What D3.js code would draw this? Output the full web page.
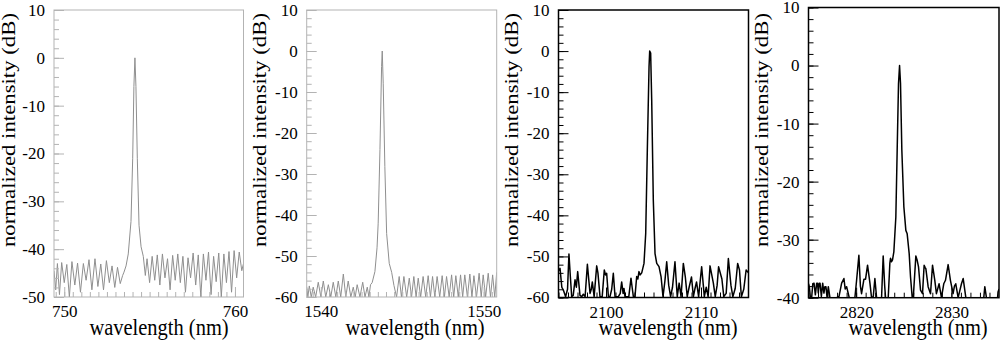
<!DOCTYPE html>
<html lang="en">
<head>
<meta charset="utf-8" />
<title>Single-frequency laser spectra</title>
<script src="https://cdn.jsdelivr.net/npm/d3@7"></script>
<style>
  body { margin: 0; background: #fff; }
  svg { display: block; background: #fff; }
  text { font-family: "Liberation Serif", "Times New Roman", serif; fill: #000; }
</style>
</head>
<body>
<svg id="chart" width="1000" height="343"></svg>
<script>
// spectra: [wavelength (nm), normalized intensity (dB)]
const spec750 = [
  [749.40,-44.5],[749.50,-48.5],[749.60,-43.0],[749.72,-49.5],[749.85,-42.8],[750.00,-47.0],
  [750.15,-43.2],[750.30,-50.0],[750.45,-42.6],[750.62,-47.5],[750.78,-42.9],[750.95,-49.0],
  [751.12,-43.0],[751.28,-46.5],[751.45,-42.2],[751.62,-48.5],[751.80,-42.0],[751.97,-47.8],
  [752.14,-43.1],[752.30,-48.5],[752.47,-42.4],[752.64,-47.0],[752.80,-43.5],[752.96,-48.0],
  [753.12,-43.8],[753.28,-47.2],[753.42,-45.5],[753.50,-44.8],[753.62,-43.5],[753.75,-41.0],
  [753.91,-34.2],[754.01,-21.0],[754.08,-6.0],[754.14,0],[754.20,-6.0],[754.28,-21.0],
  [754.38,-35.0],[754.50,-39.5],[754.63,-41.5],[754.75,-45.5],[754.85,-42.0],[755.00,-47.0],
  [755.15,-41.5],[755.30,-46.5],[755.45,-41.2],[755.60,-47.5],[755.75,-41.0],[755.90,-46.0],
  [756.05,-42.0],[756.20,-48.5],[756.35,-41.3],[756.50,-46.5],[756.65,-41.0],[756.80,-47.0],
  [756.95,-41.5],[757.10,-49.0],[757.25,-41.8],[757.40,-46.0],[757.55,-40.8],[757.70,-47.5],
  [757.85,-41.2],[758.00,-50.0],[758.15,-41.0],[758.30,-46.5],[758.45,-40.6],[758.60,-49.5],
  [758.75,-41.5],[758.90,-46.8],[759.05,-40.8],[759.20,-50.0],[759.35,-41.0],[759.50,-47.0],
  [759.65,-40.5],[759.80,-49.0],[759.95,-40.3],[760.10,-46.0],[760.25,-40.6],[760.40,-44.5],
  [760.50,-43.0]
];

const spec1540 = [
  [1539.13,-57.5],[1539.20,-60],[1539.29,-57.3],[1539.41,-60],[1539.53,-57.6],[1539.68,-60],
  [1539.84,-56.4],[1540.00,-60],[1540.15,-56.1],[1540.30,-60],[1540.46,-57.0],[1540.61,-60],
  [1540.76,-56.4],[1540.92,-60],[1541.07,-56.1],[1541.22,-60],[1541.38,-54.4],[1541.53,-60],
  [1541.68,-56.1],[1541.84,-60],[1541.99,-57.6],[1542.11,-60],[1542.23,-57.0],[1542.40,-60],
  [1542.57,-56.4],[1542.71,-60],[1542.85,-57.6],[1542.95,-60],[1543.05,-57.0],[1543.15,-56.5],
  [1543.32,-53.8],[1543.45,-48.0],[1543.52,-42.0],[1543.63,-24.0],[1543.73,-3.8],[1543.77,0],
  [1543.83,-8.0],[1543.93,-28.2],[1544.04,-44.5],[1544.20,-51.8],[1544.35,-54.0],[1544.49,-57.2],
  [1544.65,-60],[1544.81,-55.0],[1544.95,-60],[1545.10,-55.0],[1545.27,-60],[1545.43,-55.4],
  [1545.57,-60],[1545.71,-55.0],[1545.85,-60],[1545.98,-55.4],[1546.13,-60],[1546.28,-55.0],
  [1546.44,-60],[1546.59,-54.8],[1546.73,-60],[1546.86,-55.0],[1547.00,-60],[1547.14,-55.0],
  [1547.30,-60],[1547.45,-54.8],[1547.59,-60],[1547.72,-55.0],[1547.88,-60],[1548.03,-54.6],
  [1548.16,-60],[1548.29,-54.8],[1548.44,-60],[1548.58,-54.6],[1548.71,-60],[1548.84,-54.6],
  [1549.00,-60],[1549.15,-54.4],[1549.28,-60],[1549.40,-54.8],[1549.56,-60],[1549.72,-54.2],
  [1549.85,-60],[1549.97,-54.6],[1550.12,-60],[1550.28,-54.2],[1550.42,-60],[1550.55,-54.6],
  [1550.68,-60],[1550.80,-54.0]
];

const spec2100 = [
  [2095.00,-53.5],[2095.16,-52.9],[2095.35,-57.5],[2095.51,-58.2],[2095.75,-59.8],[2095.95,-58.0],
  [2096.10,-49.4],[2096.25,-55.0],[2096.39,-59.8],[2096.55,-59.5],[2096.74,-55.7],[2096.88,-57.5],
  [2097.02,-53.7],[2097.26,-59.5],[2097.45,-59.8],[2097.61,-59.2],[2097.80,-59.8],[2098.04,-51.9],
  [2098.20,-56.0],[2098.32,-59.0],[2098.45,-58.0],[2098.56,-56.2],[2098.75,-59.8],[2099.02,-52.3],
  [2099.15,-54.0],[2099.37,-59.8],[2099.60,-59.8],[2099.82,-53.3],[2099.95,-54.5],[2100.07,-54.1],
  [2100.25,-59.8],[2100.42,-59.8],[2100.60,-58.0],[2100.77,-54.1],[2100.95,-59.8],[2101.30,-59.8],
  [2101.50,-59.0],[2101.65,-56.2],[2101.80,-59.0],[2101.89,-57.8],[2102.00,-59.8],[2102.40,-59.8],
  [2102.63,-55.3],[2102.75,-57.5],[2102.88,-59.8],[2103.05,-59.8],[2103.23,-54.9],[2103.35,-55.5],
  [2103.47,-53.7],[2103.60,-54.5],[2103.76,-54.0],[2104.00,-51.7],[2104.18,-44.4],[2104.35,-24.1],
  [2104.53,-3.8],[2104.60,0],[2104.70,-0.5],[2104.81,-11.8],[2104.98,-36.3],[2105.16,-49.3],
  [2105.34,-51.7],[2105.58,-52.5],[2105.80,-55.0],[2106.00,-59.8],[2106.20,-56.0],[2106.39,-51.3],
  [2106.60,-57.0],[2106.80,-59.8],[2107.00,-57.5],[2107.26,-51.3],[2107.50,-59.8],[2107.70,-56.5],
  [2107.90,-59.8],[2108.14,-51.7],[2108.35,-55.0],[2108.55,-59.8],[2108.75,-57.5],[2109.00,-55.0],
  [2109.20,-59.8],[2109.35,-58.0],[2109.53,-56.2],[2109.75,-59.8],[2110.07,-52.5],[2110.35,-59.8],
  [2110.55,-57.5],[2110.75,-59.8],[2110.95,-52.3],[2111.30,-56.5],[2111.50,-59.8],[2111.70,-57.0],
  [2111.85,-52.5],[2112.20,-55.5],[2112.40,-59.8],[2112.65,-59.0],[2112.88,-50.5],[2113.15,-57.0],
  [2113.35,-59.8],[2113.60,-57.8],[2113.86,-51.7],[2114.05,-53.3],[2114.25,-59.8],[2114.50,-58.0],
  [2114.75,-53.3],[2115.00,-54.0]
];

const spec2820 = [
  [2815.00,-37.6],[2815.09,-38.1],[2815.20,-40],[2815.33,-40],[2815.45,-37.6],[2815.58,-37.5],
  [2815.72,-39.5],[2815.86,-37.5],[2815.95,-37.5],[2816.03,-39.2],[2816.12,-37.5],[2816.21,-37.5],
  [2816.35,-39.8],[2816.49,-37.5],[2816.62,-39.2],[2816.72,-38.1],[2816.83,-38.1],[2816.95,-40],
  [2817.08,-38.1],[2817.25,-40],[2817.95,-40],[2818.20,-39.8],[2818.48,-37.5],[2818.72,-36.7],
  [2818.85,-38.5],[2819.00,-38.1],[2819.28,-40],[2819.87,-40],[2820.05,-37.0],[2820.29,-32.7],
  [2820.45,-38.0],[2820.57,-39.3],[2820.82,-36.8],[2820.99,-36.8],[2821.20,-34.4],[2821.45,-37.5],
  [2821.62,-40],[2821.80,-39.8],[2821.97,-36.7],[2822.15,-40],[2822.67,-40],[2822.84,-32.8],
  [2823.00,-38.0],[2823.09,-40],[2823.37,-40],[2823.54,-34.1],[2823.61,-33.2],[2823.72,-33.8],
  [2823.82,-33.5],[2823.96,-32.1],[2824.17,-26.1],[2824.31,-14.6],[2824.45,-3.1],[2824.56,0],
  [2824.66,-3.1],[2824.80,-14.6],[2825.01,-24.3],[2825.22,-28.4],[2825.36,-29.0],[2825.57,-32.4],
  [2825.71,-36.4],[2825.89,-40],[2826.00,-40],[2826.27,-32.8],[2826.40,-33.5],[2826.55,-34.7],
  [2826.76,-38.7],[2826.97,-39.3],[2827.14,-34.4],[2827.25,-34.8],[2827.32,-35.0],[2827.56,-38.1],
  [2827.81,-39.3],[2828.02,-34.4],[2828.26,-37.0],[2828.43,-39.3],[2828.71,-37.6],[2828.96,-40],
  [2829.20,-37.6],[2829.38,-37.0],[2829.66,-34.3],[2829.90,-37.0],[2830.18,-39.3],[2830.32,-38.0],
  [2830.46,-37.6],[2830.71,-40],[2831.06,-37.6],[2831.24,-36.7],[2831.52,-40],[2833.40,-40],
  [2833.51,-38.1],[2833.68,-40],[2834.85,-40],[2834.90,-39.0],[2835.00,-38.5]
];

// axis labels
const xTicks750 = [750, 760];
const xTicks1540 = [1540, 1550];
const xTicks2100 = [2100, 2110];
const xTicks2820 = [2820, 2830];
const yTicks750 = [-50, -40, -30, -20, -10, 0, 10];
const yTicks1540 = [-60, -50, -40, -30, -20, -10, 0, 10];
const yTicks2100 = [-60, -50, -40, -30, -20, -10, 0, 10];
const yTicks2820 = [-40, -30, -20, -10, 0, 10];

const xTitle = "wavelength (nm)";
const yTitle = "normalized intensity (dB)";

// panel layout
const panels = [
  { data: spec750, xTicks: xTicks750, yTicks: yTicks750, xDom: [749.4, 760.5], xMinor: 0.5,
    left: 54, right: 243.5, top: 10, bottom: 297, line: "#8f8f8f", lw: 1, frame: "#b3b3b3", fw: 1,
    titleX: 159, yTitleX: 15 },
  { data: spec1540, xTicks: xTicks1540, yTicks: yTicks1540, xDom: [1539.13, 1550.8], xMinor: 0.5,
    left: 306.7, right: 496.7, top: 10, bottom: 297, line: "#8f8f8f", lw: 1, frame: "#b3b3b3", fw: 1,
    titleX: 415, yTitleX: 265.5 },
  { data: spec2100, xTicks: xTicks2100, yTicks: yTicks2100, xDom: [2095, 2115], xMinor: 1,
    left: 558.5, right: 748.5, top: 10, bottom: 297.5, line: "#000", lw: 1.5, frame: "#000", fw: 1.5,
    titleX: 668, yTitleX: 518 },
  { data: spec2820, xTicks: xTicks2820, yTicks: yTicks2820, xDom: [2815, 2835], xMinor: 1,
    left: 808.5, right: 999, top: 7.5, bottom: 297.7, line: "#000", lw: 1.5, frame: "#000", fw: 1.5,
    titleX: 918, yTitleX: 768 }
];

const serif = '"Liberation Serif", "Times New Roman", serif';
const svg = d3.select("#chart");

// label styling applied after each axis call
function styleLabels(a) {
  a.select(".domain").remove();
  a.selectAll("text")
    .style("font-family", serif)
    .style("font-size", "17px")
    .style("fill", "#000");
}

panels.forEach((p, i) => {
  const yDom = [d3.min(p.yTicks), d3.max(p.yTicks)];
  const x = d3.scaleLinear().domain(p.xDom).range([p.left, p.right]);
  const y = d3.scaleLinear().domain(yDom).range([p.bottom, p.top]);
  const g = svg.append("g");

  g.append("clipPath").attr("id", "clip" + i)
    .append("rect")
    .attr("x", p.left).attr("y", p.top)
    .attr("width", p.right - p.left).attr("height", p.bottom - p.top);

  // spectrum
  g.append("path")
    .datum(p.data)
    .attr("clip-path", "url(#clip" + i + ")")
    .attr("fill", "none")
    .attr("stroke", p.line)
    .attr("stroke-width", p.lw)
    .attr("stroke-linejoin", "round")
    .attr("d", d3.line().x(d => x(d[0])).y(d => y(d[1])));

  // y ticks (inward)
  g.append("g")
    .attr("transform", "translate(" + p.left + ",0)")
    .attr("color", p.frame)
    .call(d3.axisLeft(y).tickValues(d3.range(yDom[0], yDom[1] + 0.01, 2)).tickSize(-5).tickFormat(""))
    .call(styleLabels);
  g.append("g")
    .attr("transform", "translate(" + p.left + ",0)")
    .attr("color", p.frame)
    .call(d3.axisLeft(y).tickValues(p.yTicks).tickSize(-10).tickPadding(9).tickFormat(d => String(d)))
    .call(styleLabels);

  // x ticks (inward)
  const minorX = d3.range(Math.ceil(p.xDom[0] / p.xMinor) * p.xMinor, p.xDom[1], p.xMinor);
  g.append("g")
    .attr("transform", "translate(0," + p.bottom + ")")
    .attr("color", p.frame)
    .call(d3.axisBottom(x).tickValues(minorX).tickSize(-5).tickFormat(""))
    .call(styleLabels);
  g.append("g")
    .attr("transform", "translate(0," + p.bottom + ")")
    .attr("color", p.frame)
    .call(d3.axisBottom(x).tickValues(p.xTicks).tickSize(-10).tickPadding(8).tickFormat(d => String(d)))
    .call(styleLabels);

  // frame
  g.append("rect")
    .attr("x", p.left).attr("y", p.top)
    .attr("width", p.right - p.left).attr("height", p.bottom - p.top)
    .attr("fill", "none")
    .attr("stroke", p.frame)
    .attr("stroke-width", p.fw);

  // titles (the source figure is slightly squeezed horizontally)
  g.append("text")
    .attr("transform", "translate(" + p.titleX + ",335) scale(0.89,1)")
    .attr("text-anchor", "middle")
    .style("font-size", "23px")
    .text(xTitle);
  g.append("text")
    .attr("transform", "translate(" + p.yTitleX + ",130) rotate(-90) scale(1,0.8)")
    .attr("text-anchor", "middle")
    .style("font-size", "22.8px")
    .text(yTitle);
});
</script>
</body>
</html>
